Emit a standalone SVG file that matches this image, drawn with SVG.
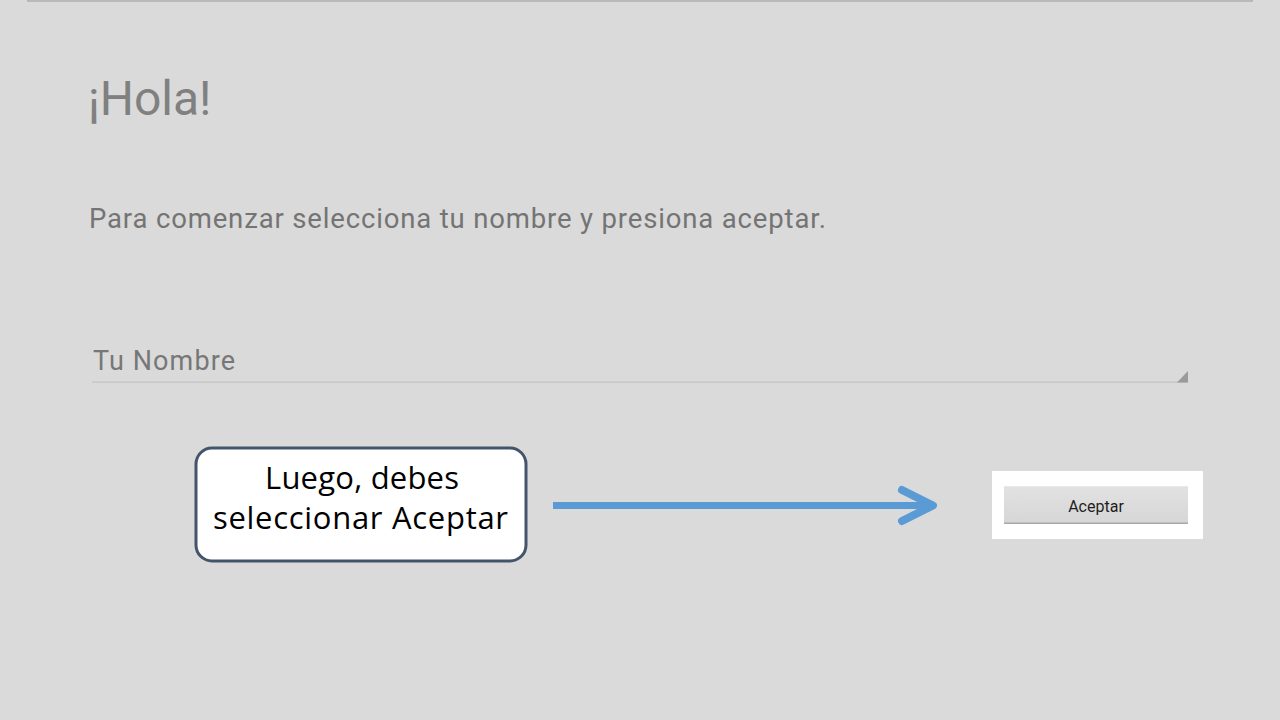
<svg xmlns="http://www.w3.org/2000/svg" width="1280" height="720" viewBox="0 0 1280 720">
  <style>
    .ui { font-family: Roboto, "Noto Sans", "Liberation Sans", sans-serif; }
    .callout { font-family: "Open Sans", "Liberation Sans", sans-serif; font-size: 31px; fill: #000; text-anchor: middle; }
  </style>
  <defs>
    <linearGradient id="btn" x1="0" y1="0" x2="0" y2="1">
      <stop offset="0" stop-color="#e2e2e2"/>
      <stop offset="1" stop-color="#d6d6d6"/>
    </linearGradient>
  </defs>
  <rect x="0" y="0" width="1280" height="720" fill="#dadada"/>
  <rect x="27" y="0" width="1226" height="2" fill="#b9b9b9"/>

  <g id="title">
    <text class="ui" x="88" y="115" font-size="48" fill="#808080">¡Hola!</text>
  </g>
  <g id="instruction">
    <text class="ui" x="89" y="228" font-size="27.5" fill="#747474" textLength="737" lengthAdjust="spacing">Para comenzar selecciona tu nombre y presiona aceptar.</text>
  </g>
  <g id="name-field">
    <text class="ui" x="93" y="370" font-size="27" fill="#777777" textLength="142" lengthAdjust="spacing">Tu Nombre</text>
    <rect x="92" y="381.5" width="1096" height="1.2" fill="#c2c2c2"/>
    <polygon points="1188,371 1188,382.5 1177,382.5" fill="#9a9a9a"/>
  </g>

  <g id="callout">
    <rect x="196" y="448" width="330" height="113" rx="16" ry="16" fill="#ffffff" stroke="#44546a" stroke-width="3"/>
    <text class="callout" x="362" y="489" textLength="194" lengthAdjust="spacing">Luego, debes</text>
    <text class="callout" x="360.5" y="529" textLength="295" lengthAdjust="spacing">seleccionar Aceptar</text>
  </g>

  <g id="connectors">
    <line x1="553" y1="505.5" x2="930" y2="505.5" stroke="#5b9bd5" stroke-width="7"/>
    <polyline points="902,490 933,505.5 902,521" fill="none" stroke="#5b9bd5" stroke-width="8" stroke-linecap="round" stroke-linejoin="round"/>
  </g>

  <g id="accept-button">
    <rect x="992" y="471" width="211" height="68" fill="#ffffff"/>
    <rect x="1004" y="486" width="184" height="38" fill="url(#btn)"/>
    <rect x="1004" y="522.5" width="184" height="1.5" fill="#a8a8a8"/>
    <rect x="1004" y="486" width="184" height="1" fill="#e8e8e8"/>
    <text class="ui" x="1096" y="512" font-size="16" fill="#1e1e1e" text-anchor="middle">Aceptar</text>
  </g>
</svg>
